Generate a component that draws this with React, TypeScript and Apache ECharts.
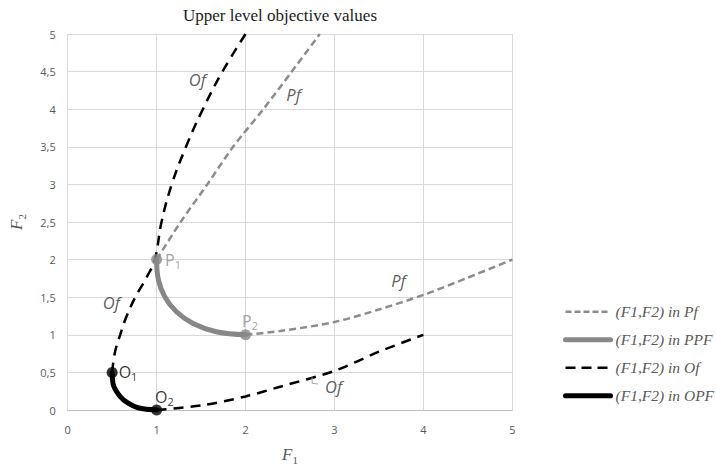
import React, { useEffect, useRef } from "react";
import * as echarts from "echarts";

// ---- data ----
const pfUpper: number[][] = [[1, 2], [1.27, 2.5], [1.57, 3], [1.86, 3.5], [2.2, 4], [2.52, 4.5], [2.835, 5]];
const pfLower: number[][] = [[2, 1], [2.39, 1.05], [3, 1.17], [3.51, 1.34], [4, 1.53], [4.5, 1.76], [5, 2]];
const ppf: number[][] = [[1, 2], [1.02, 1.73], [1.09, 1.51], [1.22, 1.31], [1.41, 1.15], [1.67, 1.04], [2, 1]];
const ofUpper: number[][] = [[0.5, 0.5], [0.53, 0.76], [0.59, 1.0], [0.66, 1.24], [0.76, 1.5], [0.89, 1.77], [0.98, 2], [1.055, 2.5], [1.17, 3], [1.33, 3.5], [1.52, 4], [1.74, 4.5], [2.0, 5]];
const ofLower: number[][] = [[1, 0], [1.5, 0.06], [2, 0.18], [2.39, 0.31], [3, 0.52], [3.51, 0.78], [4, 1]];
const opf: number[][] = [[0.5, 0.5], [0.51, 0.35], [0.59, 0.18], [0.68, 0.09], [0.79, 0.03], [1, 0]];
const ofLeader: number[][] = [[2.748, 0.435], [2.75, 0.355], [2.816, 0.346]];

const pPoints = [
  { name: "1", value: [1, 2] },
  { name: "2", value: [2, 1] },
];
const oPoints = [
  { name: "1", value: [0.5, 0.5] },
  { name: "2", value: [1, 0] },
];
const curveLabels = [
  { name: "Of", value: [1.458, 4.39] },
  { name: "Pf", value: [2.54, 4.19] },
  { name: "Of", value: [0.49, 1.43] },
  { name: "Pf", value: [3.72, 1.72] },
  { name: "Of", value: [2.99, 0.31] },
];

const legendNames = ["(F1,F2) in Pf", "(F1,F2) in PPF", "(F1,F2) in Of", "(F1,F2) in OPF"];
const titleText = "Upper level objective values";

const PF_GRAY = "#8c8c8c";
const PPF_GRAY = "#878787";

export default function App() {
  const ref = useRef<HTMLDivElement>(null);
  useEffect(() => {
    document.body.style.margin = "0";
    const chart = echarts.init(ref.current!, null, { renderer: "svg" });
    const subRich = (color: string, size: number) => ({
      a: { fontFamily: "Open Sans", fontSize: size, color, lineHeight: 20 },
      b: { fontFamily: "Open Sans", fontSize: 11, color, lineHeight: 10, verticalAlign: "bottom" },
    });
    const axisNameRich = {
      a: { fontFamily: "Liberation Serif", fontStyle: "italic", fontSize: 17, color: "#595959", lineHeight: 22 },
      b: { fontFamily: "Liberation Serif", fontSize: 11, color: "#595959", lineHeight: 10, verticalAlign: "bottom" },
    };
    const legendStyles = [
      { color: PF_GRAY, width: 2.5, type: [6, 3] },
      { color: PPF_GRAY, width: 5, type: "solid", cap: "round" },
      { color: "#000", width: 2.5, type: [10, 6] },
      { color: "#000", width: 5, type: "solid", cap: "round" },
    ];
    const option: any = {
      animation: false,
      title: {
        text: titleText,
        left: 275,
        top: 2,
        textAlign: "center",
        textStyle: { fontFamily: "Liberation Serif", fontSize: 17, fontWeight: "normal", color: "#1a1a1a" },
      },
      legend: {
        orient: "vertical",
        left: 563,
        top: 302.7,
        padding: 0,
        itemWidth: 45,
        itemHeight: 14,
        itemGap: 10,
        selectedMode: false,
        data: legendNames.map((n, i) => ({
          name: n,
          itemStyle: { opacity: 0 },
          lineStyle: legendStyles[i],
        })),
        textStyle: { fontFamily: "Liberation Serif", fontStyle: "italic", fontSize: 15.5, lineHeight: 18, color: "#595959" },
      },
      grid: { left: 67.7, right: 203.7, top: 34, bottom: 60 },
      xAxis: {
        type: "value",
        min: 0,
        max: 5,
        interval: 1,
        name: "{a|F}{b|1}",
        nameLocation: "middle",
        nameGap: 33,
        nameTextStyle: { rich: axisNameRich },
        axisLine: { show: true, lineStyle: { color: "#bfbfbf", width: 1 } },
        axisTick: { show: false },
        axisLabel: { fontFamily: "Open Sans", fontSize: 11, color: "#595959", margin: 14 },
        splitLine: { show: true, lineStyle: { color: "#d9d9d9", width: 1 } },
      },
      yAxis: {
        type: "value",
        min: 0,
        max: 5,
        interval: 0.5,
        name: "{a|F}{b|2}",
        nameLocation: "middle",
        nameRotate: 90,
        nameGap: 40,
        nameTextStyle: { rich: axisNameRich },
        axisLine: { show: false },
        axisTick: { show: false },
        axisLabel: {
          fontFamily: "Open Sans",
          fontSize: 11,
          color: "#595959",
          margin: 12,
          formatter: (v: number) => String(v).replace(".", ","),
        },
        splitLine: { show: true, lineStyle: { color: "#d9d9d9", width: 1 } },
      },
      series: [
        {
          name: legendNames[0], type: "line", data: pfUpper, smooth: 0.3, symbol: "none", z: 2,
          lineStyle: { color: PF_GRAY, width: 2.5, type: [7, 4] }, itemStyle: { color: PF_GRAY },
        },
        {
          name: legendNames[0], type: "line", data: pfLower, smooth: 0.3, symbol: "none", z: 2,
          lineStyle: { color: PF_GRAY, width: 2.5, type: [7, 4] }, itemStyle: { color: PF_GRAY },
        },
        {
          name: legendNames[2], type: "line", data: ofUpper, smooth: 0.4, symbol: "none", z: 2,
          lineStyle: { color: "#000", width: 2.5, type: [10, 7] }, itemStyle: { color: "#000" },
        },
        {
          name: legendNames[2], type: "line", data: ofLower, smooth: 0.3, symbol: "none", z: 2,
          lineStyle: { color: "#000", width: 2.5, type: [10, 7] }, itemStyle: { color: "#000" },
        },
        {
          name: legendNames[1], type: "line", data: ppf, smooth: 0.4, symbol: "none", z: 3,
          lineStyle: { color: PPF_GRAY, width: 5, cap: "round" }, itemStyle: { color: PPF_GRAY },
        },
        {
          name: legendNames[3], type: "line", data: opf, smooth: 0.4, symbol: "none", z: 3,
          lineStyle: { color: "#000", width: 5, cap: "round" }, itemStyle: { color: "#000" },
        },
        {
          name: "leader", type: "line", data: ofLeader, symbol: "none", z: 2, silent: true,
          lineStyle: { color: "#a6a6a6", width: 1 },
        },
        {
          name: "P points", type: "scatter", data: pPoints, symbolSize: 11, z: 5,
          itemStyle: { color: PPF_GRAY },
          label: {
            show: true,
            formatter: (p: any) => `{a|P}{b|${p.name}}`,
            rich: subRich("#8c8c8c", 16),
            position: "right",
            distance: 3,
          },
          labelLayout: (p: any) => (p.dataIndex === 1 ? { dx: -12, dy: -14 } : {}),
        },
        {
          name: "O points", type: "scatter", data: oPoints, symbolSize: 11, z: 5,
          itemStyle: { color: "#000" },
          label: {
            show: true,
            formatter: (p: any) => `{a|O}{b|${p.name}}`,
            rich: subRich("#000", 16),
            position: "right",
            distance: 1,
            offset: [0, -5],
          },
          labelLayout: (p: any) => (p.dataIndex === 1 ? { dx: -8, dy: -13 } : {}),
        },
        {
          name: "curve labels", type: "scatter", data: curveLabels, symbolSize: 1, z: 4, silent: true,
          itemStyle: { color: "rgba(0,0,0,0)" },
          label: {
            show: true,
            position: "inside",
            formatter: "{b}",
            fontFamily: "Open Sans",
            fontStyle: "italic",
            fontSize: 16.5,
            color: "#333333",
          },
        },
      ],
    };
    chart.setOption(option);
    return () => chart.dispose();
  }, []);
  return <div ref={ref} style={{ width: 716, height: 470 }} />;
}
